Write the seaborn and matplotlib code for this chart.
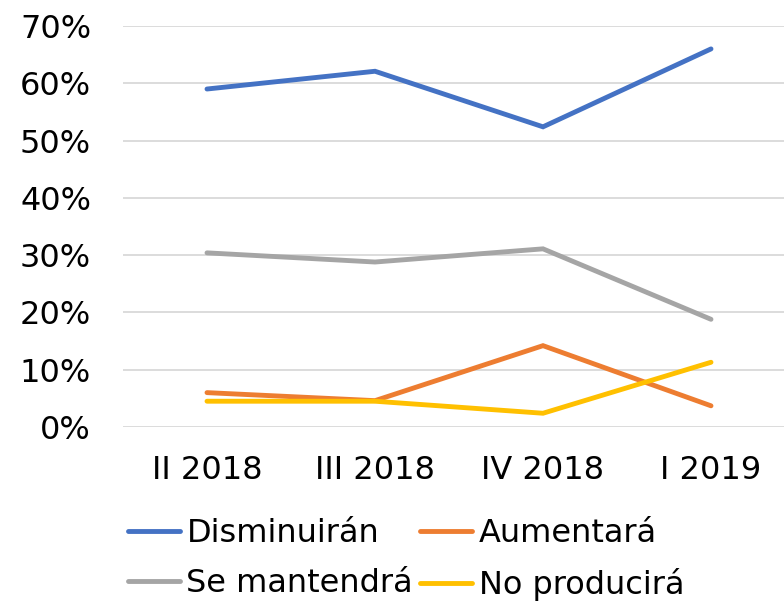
import matplotlib
matplotlib.use("Agg")
import matplotlib.pyplot as plt
import seaborn as sns
import pandas as pd
from matplotlib.ticker import PercentFormatter
from matplotlib.lines import Line2D

categories = ["II 2018", "III 2018", "IV 2018", "I 2019"]
series_names = ["Disminuirán", "Aumentará", "Se mantendrá", "No producirá"]
disminuiran = [0.590, 0.621, 0.524, 0.660]
aumentara = [0.060, 0.046, 0.142, 0.037]
se_mantendra = [0.304, 0.288, 0.311, 0.188]
no_producira = [0.045, 0.045, 0.024, 0.113]
colors = ["#4472C4", "#ED7D31", "#A5A5A5", "#FFC000"]

sns.set_theme(style="white")
plt.rcParams["font.family"] = ["DejaVu Sans"]
plt.rcParams["text.color"] = "black"

rows = []
for name, vals in zip(series_names, [disminuiran, aumentara, se_mantendra, no_producira]):
    for i, v in enumerate(vals):
        rows.append({"Periodo": i, "Serie": name, "Valor": v})
df = pd.DataFrame(rows)

fig = plt.figure(figsize=(7.84, 6.02), dpi=100)
ax = fig.add_axes([123 / 784, 1 - 427 / 602, 672 / 784, 401 / 602])

LW = 3.5
sns.lineplot(data=df, x="Periodo", y="Valor", hue="Serie", hue_order=series_names,
             palette=colors, linewidth=LW, ax=ax, legend=False,
             solid_capstyle="round", solid_joinstyle="miter")

ax.set_xlim(-0.5, 3.5)
ax.set_ylim(0, 0.70)
ax.set_yticks([i / 10 for i in range(8)])
ax.yaxis.set_major_formatter(PercentFormatter(1.0, decimals=0))
ax.set_xticks(range(len(categories)))
ax.set_xticklabels(categories)
ax.tick_params(axis="both", labelsize=23, colors="black", length=0)
ax.tick_params(axis="x", pad=20)
ax.tick_params(axis="y", pad=23)
ax.set_xlabel("")
ax.set_ylabel("")
ax.grid(axis="y", color="#D9D9D9", linewidth=1.3)
ax.set_axisbelow(True)
for s in ax.spines.values():
    s.set_visible(False)

# legend rows: Disminuirán, Aumentará / Se mantendrá, No producirá (column-major order)
order = [0, 2, 1, 3]
handles = [Line2D([0], [0], color=colors[i], linewidth=LW, solid_capstyle="round") for i in order]
labels = [series_names[i] for i in order]
fig.legend(handles, labels, loc="upper left", bbox_to_anchor=(128 / 784, 1 - 518 / 602),
           ncol=2, frameon=False, fontsize=23, handlelength=1.63, handletextpad=0.2,
           columnspacing=0.22, labelspacing=0.6, borderaxespad=0, borderpad=0,
           labelcolor="black")

fig.savefig("out.png", dpi=100)
